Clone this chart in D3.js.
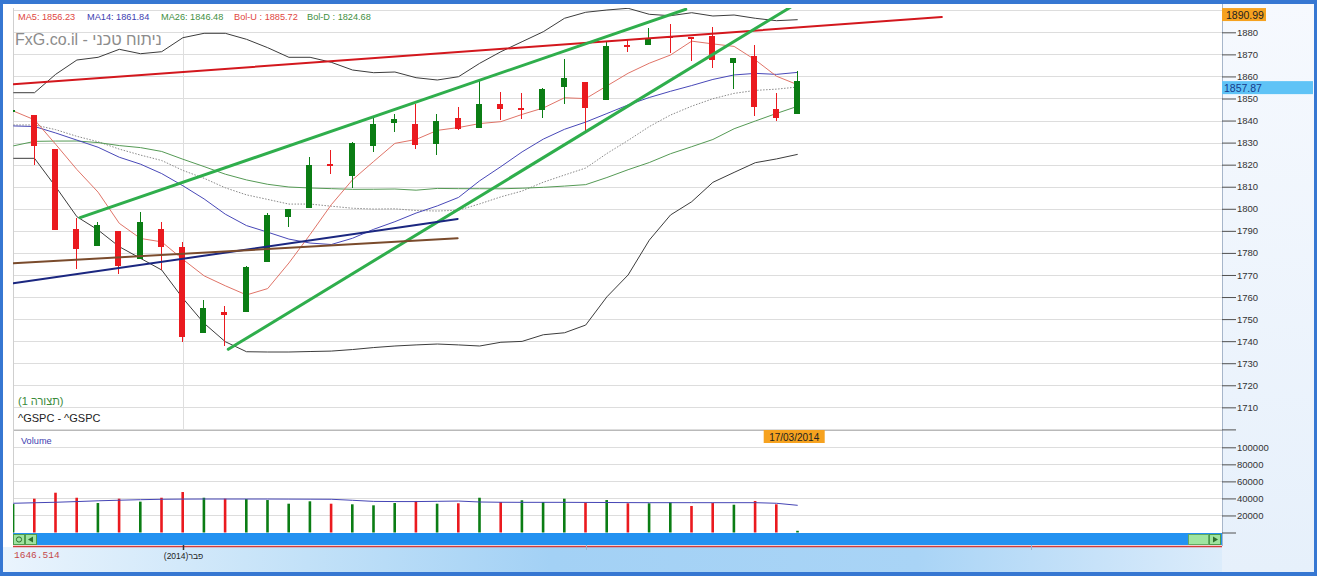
<!DOCTYPE html>
<html><head><meta charset="utf-8">
<script src="https://cdn.jsdelivr.net/npm/d3@7"></script>
<style>
html,body{margin:0;padding:0;background:#fff;overflow:hidden}
svg{display:block;font-family:"Liberation Sans",Arial,sans-serif}
</style></head><body>
<svg id="c" width="1317" height="576"></svg>
<script>
// ---------------- DATA ----------------
const dates = ["22/01/2014","23/01/2014","24/01/2014","27/01/2014","28/01/2014","29/01/2014","30/01/2014","31/01/2014",
"03/02/2014","04/02/2014","05/02/2014","06/02/2014","07/02/2014","10/02/2014","11/02/2014","12/02/2014","13/02/2014","14/02/2014",
"18/02/2014","19/02/2014","20/02/2014","21/02/2014","24/02/2014","25/02/2014","26/02/2014","27/02/2014","28/02/2014",
"03/03/2014","04/03/2014","05/03/2014","06/03/2014","07/03/2014","10/03/2014","11/03/2014","12/03/2014","13/03/2014","14/03/2014","17/03/2014"];
const opens = [1844.71,1842.29,1826.96,1791.03,1783.00,1790.15,1777.17,1790.88,1782.68,1743.82,1753.38,1752.99,1776.01,1796.20,1800.45,1820.12,1814.82,1828.46,1839.03,1838.22,1829.24,1841.07,1836.78,1847.66,1845.79,1844.90,1855.12,1857.68,1849.23,1874.05,1874.18,1878.52,1877.86,1878.26,1866.15,1869.06,1845.07,1842.81];
const highs = [1846.87,1842.29,1826.96,1795.98,1793.87,1790.15,1798.77,1793.88,1784.83,1758.73,1755.79,1774.06,1798.03,1799.94,1823.54,1826.55,1830.25,1841.65,1842.87,1847.50,1842.79,1846.13,1858.71,1852.91,1852.65,1854.53,1867.92,1857.68,1876.23,1876.53,1881.94,1883.57,1877.87,1882.35,1868.38,1874.40,1852.44,1862.30];
const lows = [1840.88,1820.06,1790.29,1772.88,1783.00,1770.45,1777.17,1772.26,1739.66,1743.82,1737.92,1752.99,1776.01,1791.83,1800.41,1815.97,1809.22,1825.59,1835.01,1826.99,1824.58,1835.60,1836.78,1840.19,1840.66,1841.13,1847.67,1834.44,1849.23,1871.11,1874.18,1870.56,1867.04,1863.88,1854.38,1841.86,1839.57,1842.81];
const closes = [1844.86,1828.46,1790.29,1781.56,1792.50,1774.20,1794.19,1782.59,1741.89,1755.20,1751.64,1773.43,1797.02,1799.84,1819.75,1819.26,1829.83,1838.63,1840.76,1828.75,1839.78,1836.25,1847.61,1845.12,1845.16,1854.29,1859.45,1845.73,1873.91,1873.81,1877.03,1878.04,1877.17,1867.63,1868.20,1846.34,1841.13,1857.87];
const prevClose = 1843.80;
const volumes = [33400,39700,46700,40800,34600,39700,36200,40800,47500,40800,39700,39300,38100,33800,36600,33800,33100,31900,34600,37000,33800,34300,40800,35800,37800,35800,39700,35400,38100,34300,34300,35400,31100,34600,32600,37000,33100,2000];
const volumeMA = [34300,34900,35500,36300,37200,37900,38500,39000,39200,39300,39300,39300,39300,39200,39100,39000,37800,36500,36300,36300,36600,36900,35800,35500,35400,35400,35400,35300,35200,35100,35000,35000,35000,35000,35000,35000,34300,31900];
const ma5 = [1844.33,1840.34,1829.22,1817.79,1807.53,1793.40,1786.55,1785.01,1777.07,1769.61,1765.10,1760.95,1763.84,1775.43,1788.34,1801.86,1813.14,1821.46,1829.65,1831.45,1835.55,1836.83,1838.63,1839.50,1842.78,1845.69,1850.33,1849.95,1855.71,1861.44,1865.99,1869.70,1875.99,1874.74,1873.61,1867.48,1860.09,1856.23];
const ma14 = [1837.55,1837.30,1834.36,1831.13,1827.89,1823.37,1820.23,1815.96,1810.44,1804.47,1797.56,1792.38,1789.40,1786.26,1784.47,1783.81,1786.64,1790.71,1794.16,1798.06,1801.31,1805.15,1812.70,1819.12,1825.80,1831.58,1836.03,1839.31,1843.18,1847.08,1850.45,1853.26,1855.86,1858.64,1860.67,1861.39,1860.93,1861.84];
const ma26 = [1828.51,1830.56,1830.70,1830.72,1830.02,1828.66,1827.73,1825.99,1822.47,1819.13,1815.68,1813.08,1811.10,1809.87,1809.42,1809.13,1808.82,1808.86,1808.97,1808.44,1809.23,1809.13,1809.10,1809.07,1809.32,1809.73,1810.29,1810.95,1814.17,1817.72,1820.97,1824.96,1828.15,1831.42,1836.28,1839.79,1843.23,1846.48];
const bolMid = [1837.99,1838.02,1835.87,1832.84,1830.40,1827.05,1824.35,1821.88,1817.40,1813.82,1809.51,1806.31,1804.25,1802.13,1802.15,1801.17,1800.25,1799.88,1799.99,1799.23,1798.98,1799.37,1802.23,1805.41,1808.05,1812.05,1815.31,1818.47,1825.07,1831.00,1837.27,1842.50,1846.51,1849.90,1852.32,1853.67,1854.24,1855.20];
const bolUpper = [1852.62,1852.62,1860.96,1867.44,1868.67,1872.29,1870.30,1871.21,1877.55,1879.55,1879.55,1876.83,1873.02,1868.67,1868.67,1866.40,1862.91,1861.69,1862.00,1859.42,1858.38,1859.87,1865.95,1871.21,1875.74,1880.27,1886.35,1889.07,1890.11,1890.88,1888.16,1887.52,1888.88,1887.39,1887.84,1886.35,1885.26,1885.72];
const bolLower = [1822.88,1822.88,1810.01,1796.41,1790.38,1782.81,1777.55,1772.25,1759.42,1748.09,1739.75,1735.21,1735.08,1735.08,1735.30,1735.50,1736.20,1737.10,1737.80,1738.30,1738.70,1738.30,1737.80,1739.50,1739.90,1742.90,1743.80,1747.30,1760.10,1770.00,1785.80,1797.20,1803.20,1812.00,1816.50,1820.90,1822.60,1824.68];
// drawn trend lines: start/end as (bar index, price)
const trendStartIdx = [0, 3.15, 10.14, 0, 0];
const trendStartVal = [1856.43, 1795.96, 1736.30, 1766.22, 1775.29];
const trendEndIdx = [43.8, 31.72, 36.64, 20.96, 20.96];
const trendEndVal = [1886.94, 1890.43, 1891.24, 1795.37, 1786.62];
const priceTicks = [1700,1710,1720,1730,1740,1750,1760,1770,1780,1790,1800,1810,1820,1830,1840,1850,1860,1870,1880];
const priceGrid = [1700,1710,1720,1730,1740,1750,1760,1770,1780,1790,1800,1810,1820,1830,1840,1850,1860,1870,1880,1890];
const volumeTicks = [0,20000,40000,60000,80000,100000];
const priceMin = 1700, priceMax = 1890.99;
const monthTickIdx = [8, 27, 48];
const monthLabels = ["פבר(2014)", "", ""];
const cursorValue = "1646.514";

// ---------------- LAYOUT ----------------
const svg = d3.select("#c");
const plotL = 13, plotR = 1222;
const x = d3.scaleLinear().domain([0, dates.length - 1]).range([13.3, 797.7]);
const y = d3.scaleLinear().domain([priceMin, priceMax]).range([429.4, 8.06]);
const yv = d3.scaleLinear().domain([0, 100000]).range([532.5, 447.3]);
const RED = "#ea1a1f", GREEN = "#0b7d14";

const defs = svg.append("defs");
defs.append("clipPath").attr("id","clipP").append("rect").attr("x",plotL).attr("y",8).attr("width",plotR-plotL).attr("height",422);
defs.append("clipPath").attr("id","clipV").append("rect").attr("x",plotL).attr("y",430).attr("width",plotR-plotL).attr("height",103);
const gA = defs.append("linearGradient").attr("id","axisGrad").attr("x1",0).attr("y1",0).attr("x2",0).attr("y2",1);
gA.append("stop").attr("offset","0%").attr("stop-color","#f6f9fe");
gA.append("stop").attr("offset","100%").attr("stop-color","#e6f0fb");
const gB = defs.append("linearGradient").attr("id","botGrad").attr("x1",0).attr("y1",0).attr("x2",1).attr("y2",0);
[["0%","#eaf4fd"],["25%","#c2e1f8"],["45%","#a3d1f5"],["75%","#a9d4f6"],["100%","#dcecfb"]].forEach(s=>gB.append("stop").attr("offset",s[0]).attr("stop-color",s[1]));

// frame & backgrounds
svg.append("rect").attr("width",1317).attr("height",576).attr("fill","#3677d2");
svg.append("rect").attr("x",3).attr("y",4).attr("width",1311).attr("height",568).attr("fill","#ffffff");
svg.append("rect").attr("x",plotR).attr("y",4).attr("width",1314-plotR).attr("height",568).attr("fill","url(#axisGrad)");
svg.append("rect").attr("x",3).attr("y",547).attr("width",plotR-3).attr("height",25).attr("fill","url(#botGrad)");

// gridlines
svg.append("g").selectAll("line").data(priceGrid).join("line")
  .attr("x1",plotL).attr("x2",plotR).attr("y1",d=>Math.round(y(d))+0.5).attr("y2",d=>Math.round(y(d))+0.5)
  .attr("stroke","#dddddd");
svg.append("g").selectAll("line").data(volumeTicks.filter(d=>d>0)).join("line")
  .attr("x1",plotL).attr("x2",plotR).attr("y1",d=>Math.round(yv(d))+0.5).attr("y2",d=>Math.round(yv(d))+0.5)
  .attr("stroke","#dddddd");
svg.append("line").attr("x1",plotL).attr("x2",plotR).attr("y1",430.5).attr("y2",430.5).attr("stroke","#b9b9b9");
svg.append("line").attr("x1",plotL+0.5).attr("x2",plotL+0.5).attr("y1",8).attr("y2",533).attr("stroke","#cfcfcf");
svg.append("line").attr("x1",Math.round(x(monthTickIdx[0]))+0.5).attr("x2",Math.round(x(monthTickIdx[0]))+0.5)
  .attr("y1",31).attr("y2",430).attr("stroke","#dedede");

// ---------------- PRICE PANEL ----------------
const gP = svg.append("g").attr("clip-path","url(#clipP)");
const idx = d3.range(dates.length);

const line = arr => d3.line().x((d,i)=>x(i)).y(d=>y(d))(arr);
gP.append("path").attr("d",line(bolUpper)).attr("fill","none").attr("stroke","#3c3c3c").attr("stroke-width",1);
gP.append("path").attr("d",line(bolLower)).attr("fill","none").attr("stroke","#3c3c3c").attr("stroke-width",1);
gP.append("path").attr("d",line(bolMid)).attr("fill","none").attr("stroke","#8a8a8a").attr("stroke-width",1).attr("stroke-dasharray","1.5,1.5");
gP.append("path").attr("d",line(ma26)).attr("fill","none").attr("stroke","#559a55").attr("stroke-width",1);
gP.append("path").attr("d",line(ma14)).attr("fill","none").attr("stroke","#4848b8").attr("stroke-width",1);
gP.append("path").attr("d",line(ma5)).attr("fill","none").attr("stroke","#e07468").attr("stroke-width",1);

// candles
const cg = gP.append("g").attr("shape-rendering","crispEdges");
idx.forEach(i=>{
  const cx = Math.round(x(i));
  const col = closes[i] >= opens[i] ? GREEN : RED;
  cg.append("rect").attr("x",cx-1).attr("width",1)
    .attr("y",y(highs[i])).attr("height",Math.max(1,y(lows[i])-y(highs[i]))).attr("fill",col);
  const top = y(Math.max(opens[i],closes[i])), bot = y(Math.min(opens[i],closes[i]));
  cg.append("rect").attr("x",cx-4).attr("width",6)
    .attr("y",top).attr("height",Math.max(2,bot-top)).attr("fill",col);
});

// trend lines
const trendColors = ["#d3171d","#2fae4c","#2fae4c","#1b2780","#7a4b2c"];
const trendWidths = [2,3,3,2,2];
trendStartIdx.forEach((s,k)=>{
  svg.append("line").attr("clip-path","url(#clipP)")
    .attr("x1",x(s)).attr("y1",y(trendStartVal[k]))
    .attr("x2",x(trendEndIdx[k])).attr("y2",y(trendEndVal[k]))
    .attr("stroke",trendColors[k]).attr("stroke-width",trendWidths[k]).attr("stroke-linecap","round");
});

// ---------------- VOLUME PANEL ----------------
const gV = svg.append("g").attr("clip-path","url(#clipV)");
idx.forEach(i=>{
  const up = closes[i] >= (i===0 ? prevClose : closes[i-1]);
  gV.append("rect").attr("x",x(i)-1.5).attr("width",2.6)
    .attr("y",yv(volumes[i])).attr("height",yv(0)-yv(volumes[i])).attr("fill",up?GREEN:RED);
});
gV.append("path").attr("d",d3.line().x((d,i)=>x(i)).y(d=>yv(d))(volumeMA))
  .attr("fill","none").attr("stroke","#4545b5").attr("stroke-width",1);

// ---------------- AXES ----------------
svg.append("line").attr("x1",plotR+0.5).attr("x2",plotR+0.5).attr("y1",4).attr("y2",546).attr("stroke","#a7b6ca");
const ax = svg.append("g").attr("transform",`translate(${plotR},0)`)
  .call(d3.axisRight(y).tickValues(priceTicks).tickSize(14).tickPadding(1).tickFormat(d=>d===1700?"":d));
const av = svg.append("g").attr("transform",`translate(${plotR},0)`)
  .call(d3.axisRight(yv).tickValues(volumeTicks).tickSize(14).tickPadding(1).tickFormat(d=>d===0?"":d));
[ax,av].forEach(g=>{
  g.select(".domain").remove();
  g.selectAll(".tick line").attr("stroke","#505050");
  g.selectAll(".tick text").attr("fill","#333").style("font-size","9.5px").style("font-family","'Liberation Sans',Arial,sans-serif");
});

// value labels on axis
svg.append("rect").attr("x",plotR).attr("y",y(priceMax)).attr("width",44).attr("height",13).attr("fill","#f6a21f");
svg.append("text").attr("x",plotR+4).attr("y",y(priceMax)+10.5).text(priceMax.toFixed(2))
  .attr("font-size","10.5px").attr("fill","#222");
const last = closes[closes.length-1];
svg.append("rect").attr("x",plotR).attr("y",y(last)).attr("width",91).attr("height",13).attr("fill","#5fc3f6");
svg.append("text").attr("x",plotR+2).attr("y",y(last)+10.5).text(last.toFixed(2))
  .attr("font-size","10.5px").attr("fill","#163b8c");

// date label
const lx = x(dates.length-1);
svg.append("rect").attr("x",lx-34).attr("y",430).attr("width",61).attr("height",13).attr("fill","#f6a21f");
svg.append("text").attr("x",lx-3.5).attr("y",440.5).attr("text-anchor","middle").text(dates[dates.length-1])
  .attr("font-size","10px").attr("fill","#222");

// ---------------- TEXTS ----------------
const legend = [
  ["MA5: " + ma5[ma5.length-1].toFixed(2), 18, "#e0463e"],
  ["MA14: " + ma14[ma14.length-1].toFixed(2), 87, "#3d3db0"],
  ["MA26: " + ma26[ma26.length-1].toFixed(2), 161, "#3f8f3f"],
  ["Bol-U : " + bolUpper[bolUpper.length-1].toFixed(2), 234, "#e0463e"],
  ["Bol-D : " + bolLower[bolLower.length-1].toFixed(2), 307, "#3f8f3f"]
];
legend.forEach(l=>svg.append("text").attr("x",l[1]).attr("y",20).text(l[0]).attr("font-size","9.2px").attr("fill",l[2]));
svg.append("text").attr("x",15).attr("y",45).text("FxG.co.il - ניתוח טכני").attr("font-size","16px").attr("fill","#8c8c8c");
svg.append("text").attr("x",18).attr("y",404.5).text("(תצורה 1)").attr("font-size","11px").attr("fill","#3a8a3a");
svg.append("text").attr("x",18).attr("y",422).text("^GSPC - ^GSPC").attr("font-size","11px").attr("fill","#222");
svg.append("text").attr("x",21).attr("y",443.5).text("Volume").attr("font-size","9.2px").attr("fill","#3d3db0");

// ---------------- SCROLLBAR / X AXIS ----------------
svg.append("rect").attr("x",plotL).attr("y",533).attr("width",plotR-plotL).attr("height",12).attr("fill","#2392f1");
function btn(bx,w){ svg.append("rect").attr("x",bx+0.5).attr("y",534.5).attr("width",w).attr("height",10).attr("fill","#9fe39f").attr("stroke","#4c9c4c"); }
btn(13,11); btn(25,11);
svg.append("circle").attr("cx",19).attr("cy",539.5).attr("r",2.6).attr("fill","none").attr("stroke","#2f6f2f");
svg.append("path").attr("d","M28,539.5 L33,536.5 L33,542.5 Z").attr("fill","#2f6f2f");
svg.append("rect").attr("x",1188.5).attr("y",534.5).attr("width",20).attr("height",10).attr("fill","#9fe5a0").attr("stroke","#62aa62");
btn(1209,11);
svg.append("path").attr("d","M1213,536.5 L1218,539.5 L1213,542.5 Z").attr("fill","#2f6f2f");
svg.append("line").attr("x1",plotL).attr("x2",plotR).attr("y1",546.5).attr("y2",546.5).attr("stroke","#d13b3b").attr("stroke-width",1.3);

monthTickIdx.forEach((m,k)=>{
  const mx = Math.round(x(m))+0.5;
  svg.append("line").attr("x1",mx).attr("x2",mx).attr("y1",545).attr("y2",550)
    .attr("stroke",k===0?"#333":"#9bb4cc").attr("stroke-width",k===0?1.5:1);
  if (monthLabels[k]) svg.append("text").attr("x",mx).attr("y",559).attr("text-anchor","middle")
    .attr("direction","rtl").text(monthLabels[k]).attr("font-size","8.5px").attr("fill","#222");
});
svg.append("text").attr("x",14).attr("y",557.5).text(cursorValue)
  .attr("font-family","'Liberation Mono','DejaVu Sans Mono',monospace").attr("font-size","9.5px").attr("fill","#c4484a");
</script>
</body></html>
